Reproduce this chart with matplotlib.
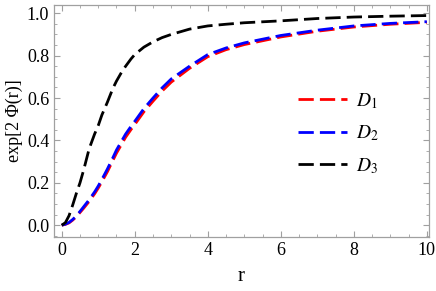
import matplotlib
matplotlib.use("Agg")
import matplotlib.pyplot as plt
from matplotlib.ticker import MultipleLocator

plt.rcParams["font.family"] = ["Liberation Serif", "DejaVu Serif"]
plt.rcParams["mathtext.fontset"] = "stix"

# values
r = [0, 0.1, 0.2, 0.3, 0.4, 0.5, 0.6, 0.75, 0.9, 1, 1.1, 1.25, 1.4, 1.5, 1.65, 1.75, 1.9,
     2, 2.25, 2.5, 2.75, 3, 3.5, 4, 4.5, 5, 6, 7, 8, 9, 10]
d1 = [0, 0.004, 0.011, 0.024, 0.04, 0.06, 0.08, 0.112, 0.148, 0.175, 0.205, 0.252,
      0.305, 0.34, 0.385, 0.415, 0.452, 0.475, 0.535, 0.585, 0.633, 0.675, 0.74,
      0.795, 0.828, 0.852, 0.888, 0.915, 0.935, 0.948, 0.957]
d2 = [0, 0.005, 0.013, 0.027, 0.044, 0.065, 0.087, 0.12, 0.157, 0.185, 0.216, 0.265,
      0.318, 0.355, 0.4, 0.43, 0.467, 0.49, 0.55, 0.6, 0.648, 0.69, 0.75,
      0.805, 0.836, 0.86, 0.895, 0.92, 0.94, 0.952, 0.96]
d3 = [0, 0.012, 0.045, 0.095, 0.15, 0.2, 0.26, 0.36, 0.43, 0.47, 0.52, 0.58,
      0.645, 0.68, 0.725, 0.75, 0.785, 0.805, 0.84, 0.865, 0.885, 0.9, 0.925,
      0.94, 0.948, 0.955, 0.964, 0.975, 0.982, 0.986, 0.989]
labels = ["$D_1$", "$D_2$", "$D_3$"]
colors = ["#ff0000", "#0000ff", "#000000"]

fig = plt.figure(figsize=(4.36, 2.91), dpi=100)
ax = fig.add_axes([0.124, 0.186, 0.86, 0.797])

for ys, lab, c in zip([d1, d2, d3], labels, colors):
    line, = ax.plot(r, ys, color=c, lw=2.0, label=lab)
    line.set_dashes((5.5, 2.2))

ax.set_xlim(-0.21, 10.06)
ax.set_ylim(-0.055, 1.039)
ax.xaxis.set_major_locator(MultipleLocator(2))
ax.xaxis.set_minor_locator(MultipleLocator(0.5))
ax.yaxis.set_major_locator(MultipleLocator(0.2))
ax.yaxis.set_minor_locator(MultipleLocator(0.05))
ax.tick_params(which="both", direction="in", top=True, right=True, color="#a0a0a0",
               labelsize=13)
ax.tick_params(which="major", length=4.5, width=0.8)
ax.tick_params(which="minor", length=2.5, width=0.6)
for s in ax.spines.values():
    s.set_color("#a0a0a0")
    s.set_linewidth(0.9)

ax.set_xlabel("r", fontsize=15, labelpad=6)
ax.set_ylabel("exp[2 \u03a6(r)]", fontsize=13, labelpad=3)

leg = ax.legend(loc="upper left", bbox_to_anchor=(0.625, 0.67), frameon=False,
                fontsize=14, handlelength=2.5, labelspacing=0.65, handletextpad=0.5,
                borderpad=0)

fig.savefig("out.png", dpi=100)
